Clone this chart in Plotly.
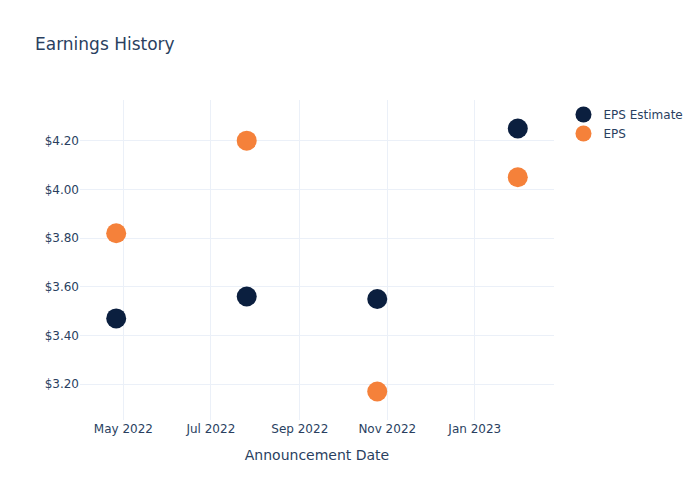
import plotly.graph_objects as go

dates = ["2022-04-26", "2022-07-26", "2022-10-25", "2023-01-31"]
eps_estimate = [3.47, 3.56, 3.55, 4.25]
eps_actual = [3.82, 4.20, 3.17, 4.05]

fig = go.Figure()
fig.add_trace(go.Scatter(x=dates, y=eps_estimate, mode="markers", name="EPS Estimate",
                         marker=dict(color="#0b1f3f", size=20)))
fig.add_trace(go.Scatter(x=dates, y=eps_actual, mode="markers", name="EPS",
                         marker=dict(color="#f5813a", size=20)))
fig.update_layout(
    template="plotly_white",
    width=700, height=500,
    font=dict(family="DejaVu Sans"),
    title=dict(text="Earnings History"),
    xaxis=dict(title=dict(text="Announcement Date"), tickformat="%b %Y", dtick="M2"),
    yaxis=dict(tickformat="$.2f"),
)
fig.write_html("out.html")
